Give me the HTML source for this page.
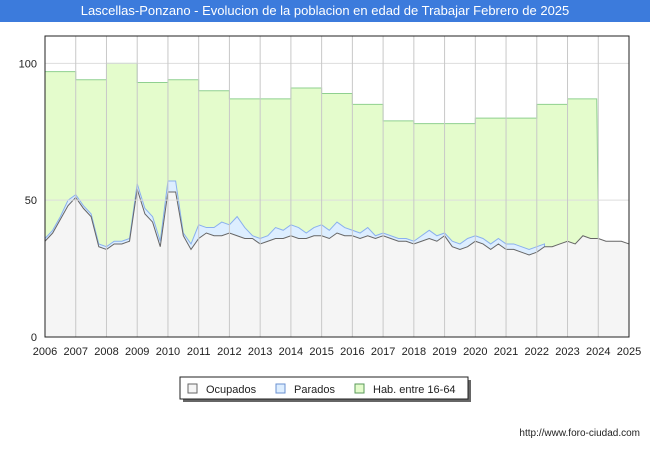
<!DOCTYPE html>
<html><head><meta charset="utf-8"><style>
body{margin:0;width:650px;height:450px;background:#fff;font-family:"Liberation Sans",sans-serif;overflow:hidden}
#title{position:absolute;left:0;top:0;width:650px;height:22px;background:#3c7bdc;color:#fff;font-size:13px;line-height:22px;text-align:center}
#url{position:absolute;right:10px;top:428px;font-size:10px;color:#222}
</style></head><body>
<div id="title">Lascellas-Ponzano - Evolucion de la poblacion en edad de Trabajar Febrero de 2025</div>
<svg id="chart" width="650" height="450" style="position:absolute;left:0;top:0"></svg>
<div id="url">http://www.foro-ciudad.com</div>
<script>
const years=[2006,2007,2008,2009,2010,2011,2012,2013,2014,2015,2016,2017,2018,2019,2020,2021,2022,2023,2024,2025];
const yTicks=[0,50,100];
const habYears=[2006,2007,2008,2009,2010,2011,2012,2013,2014,2015,2016,2017,2018,2019,2020,2021,2022,2023];
const habValues=[97,94,100,93,94,90,87,87,91,89,85,79,78,78,80,80,85,87];
const habEnd=2023.95;
const habLast=44;
const ocupados=[35,38,43,48, 51,47,44,33, 32,34,34,35, 54,45,42,33, 53,53,37,32, 36,38,37,37, 38,37,36,36, 34,35,36,36, 37,36,36,37, 37,36,38,37, 37,36,37,36, 37,36,35,35, 34,35,36,35, 37,33,32,33, 35,34,32,34, 32,32,31,30, 31,33,33,34, 35,34,37,36, 36,35,35,35, 34];
const parados=[36,39,44,50, 52,48,45,34, 33,35,35,36, 56,47,44,35, 57,57,38,34, 41,40,40,42, 41,44,40,37, 36,37,40,39, 41,40,38,40, 41,39,42,40, 39,38,40,37, 38,37,36,36, 35,37,39,37, 38,35,34,36, 37,36,34,36, 34,34,33,32, 33,34];
const L=45,R=629,T=36,B=337,ymax=110;
const X=t=>L+(t-2006)/(2025-2006)*(R-L);
const Y=v=>B-v/ymax*(B-T);
const svg=document.getElementById('chart');
const NS='http://www.w3.org/2000/svg';
function mk(tag,attrs,name){const e=document.createElementNS(NS,tag);for(const k in attrs)e.setAttribute(k,attrs[k]);


svg.appendChild(e);return e;}
mk('rect',{x:L,y:T,width:R-L,height:B-T,fill:'#fff'},'plot-area');
// hab area
let hp=`M${X(2006)},${Y(0)}`;
habYears.forEach((y,i)=>{const e=i<habYears.length-1?habYears[i+1]:habEnd;hp+=` L${X(y)},${Y(habValues[i])} L${X(e)},${Y(habValues[i])}`;});
hp+=` L${X(2024)},${Y(habLast)} L${X(2024)},${Y(0)} Z`;
mk('path',{d:hp,fill:'#e4fccc',stroke:'#8fd08f','stroke-width':1},'hab-area');
const tq=i=>2006+i/4;
let pp=`M${X(0+2006)},${Y(0)}`;parados.forEach((v,i)=>pp+=` L${X(tq(i))},${Y(v)}`);pp+=` L${X(tq(parados.length-1))},${Y(0)} Z`;
mk('path',{d:pp,fill:'#ddeeff',stroke:'#8ab0ee','stroke-width':1},'parados-area');
let op=`M${X(2006)},${Y(0)}`;ocupados.forEach((v,i)=>op+=` L${X(tq(i))},${Y(v)}`);op+=` L${X(tq(ocupados.length-1))},${Y(0)} Z`;
mk('path',{d:op,fill:'#f5f5f5',stroke:'#666','stroke-width':1},'ocupados-area');
// grid
yTicks.forEach(v=>{if(v>0)mk('line',{x1:L,x2:R,y1:Y(v),y2:Y(v),stroke:'#ddd'},'y-grid');
const t=mk('text',{x:L-8,y:Y(v)+4,'text-anchor':'end','font-size':11,fill:'#222'},'y-tick-label');t.textContent=v;});
years.forEach(y=>{if(y>2006&&y<2025)mk('line',{x1:X(y),x2:X(y),y1:T,y2:B,stroke:'#c8c8c8'},'x-grid');
const t=mk('text',{x:X(y),y:B+18,'text-anchor':'middle','font-size':11,fill:'#222'},'x-tick-label');t.textContent=y;});
mk('rect',{x:L,y:T,width:R-L,height:B-T,fill:'none',stroke:'#222','stroke-width':1},'plot-border');
// legend
mk('rect',{x:183,y:380,width:288,height:22,fill:'#666'},'legend-shadow');
mk('rect',{x:180,y:377,width:288,height:22,fill:'#fff',stroke:'#222'},'legend-box');
[['Ocupados','#f5f5f5','#666',188],['Parados','#ddeeff','#6a90d0',276],['Hab. entre 16-64','#e4fccc','#5a9a5a',355]].forEach(([n,f,s,x])=>{
mk('rect',{x:x,y:384,width:9,height:9,fill:f,stroke:s},'legend-swatch-'+n.toLowerCase().replace(/[^a-z]+/g,'-'));
const t=mk('text',{x:x+18,y:393,'font-size':11,fill:'#222'},'legend-label');t.textContent=n;});
</script>
</body></html>
